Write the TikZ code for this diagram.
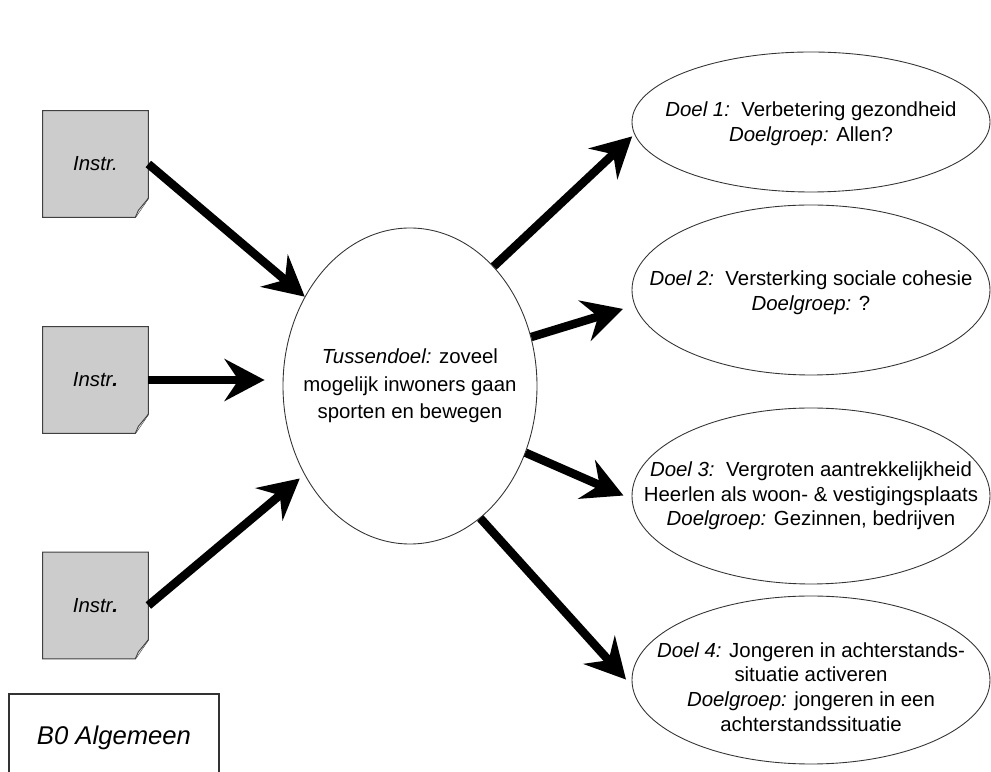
\documentclass[tikz,border=0pt]{standalone}
\usepackage{fontspec}
\setmainfont{Liberation Sans}
\usetikzlibrary{arrows.meta,shapes.geometric}

\tikzset{
  instr/.style={minimum width=2.1cm, minimum height=2.12cm, inner sep=0pt},
  fold/.style={draw=black!75, line width=0.6pt, fill=black!20},
  flap/.style={draw=black!75, line width=0.5pt, fill=black!8},
  goal/.style={ellipse, draw=black!80, line width=0.5pt, inner sep=0pt},
  txt/.style={align=center, inner sep=0pt},
  arr/.style={line width=0.17cm, -{Stealth[length=0.8cm, width=0.84cm, inset=0.28cm]}}
}

\begin{document}
\begin{tikzpicture}[every node/.style={font=\fontsize{11.6}{14}\selectfont}]
\useasboundingbox (0,0) rectangle (19.82,15.44);

% Instrumenten
\node[instr] (i1) at (1.91,12.16) {};
\node[instr] (i2) at (1.91,7.84) {};
\node[instr] (i3) at (1.91,3.33) {};
\draw[fold] (i1.north west) -- (i1.north east) -- ([yshift=0.38cm]i1.south east) -- ([xshift=-0.26cm]i1.south east) -- (i1.south west) -- cycle;
\draw[fold] (i2.north west) -- (i2.north east) -- ([yshift=0.38cm]i2.south east) -- ([xshift=-0.26cm]i2.south east) -- (i2.south west) -- cycle;
\draw[fold] (i3.north west) -- (i3.north east) -- ([yshift=0.38cm]i3.south east) -- ([xshift=-0.26cm]i3.south east) -- (i3.south west) -- cycle;
\draw[flap] ([yshift=0.38cm]i1.south east) -- ([xshift=-0.2cm,yshift=0.14cm]i1.south east) -- ([xshift=-0.26cm]i1.south east);
\draw[flap] ([yshift=0.38cm]i2.south east) -- ([xshift=-0.2cm,yshift=0.14cm]i2.south east) -- ([xshift=-0.26cm]i2.south east);
\draw[flap] ([yshift=0.38cm]i3.south east) -- ([xshift=-0.2cm,yshift=0.14cm]i3.south east) -- ([xshift=-0.26cm]i3.south east);
\node[txt] (i1txt) at (i1) {\textit{Instr.}};
\node[txt] (i2txt) at (i2) {\textit{Instr\textbf{.}}};
\node[txt] (i3txt) at (i3) {\textit{Instr\textbf{.}}};

% Tussendoel
\node[goal, minimum width=5.08cm, minimum height=6.32cm] (mid) at (8.2,7.72) {};
\node[txt, font=\fontsize{11.6}{15.6}\selectfont] (midtxt) at (mid) {\textit{Tussendoel:} zoveel\\ mogelijk inwoners gaan\\ sporten en bewegen};

% Doelen
\node[goal, minimum width=7.16cm, minimum height=2.8cm] (d1) at (16.22,13.0) {};
\node[goal, minimum width=7.16cm, minimum height=3.4cm] (d2) at (16.22,9.64) {};
\node[goal, minimum width=7.16cm, minimum height=3.52cm] (d3) at (16.22,5.52) {};
\node[goal, minimum width=7.16cm, minimum height=3.36cm] (d4) at (16.22,1.84) {};
\node[txt] (d1txt) at ([yshift=-0.04cm]d1) {\textit{Doel 1:}~~Verbetering gezondheid\\ \textit{Doelgroep:} Allen?};
\node[txt] (d2txt) at ([yshift=-0.06cm]d2) {\textit{Doel 2:}~~Versterking sociale cohesie\\ \textit{Doelgroep:} ?};
\node[txt] (d3txt) at (d3) {\textit{Doel 3:}~~Vergroten aantrekkelijkheid\\ Heerlen als woon- \& vestigingsplaats\\ \textit{Doelgroep:} Gezinnen, bedrijven};
\node[txt] (d4txt) at ([yshift=-0.14cm]d4) {\textit{Doel 4:} Jongeren in achterstands-\\ situatie activeren\\ \textit{Doelgroep:} jongeren in een\\ achterstandssituatie};

% Algemeen
\node[draw=black!80, line width=0.6pt, minimum width=4.2cm, minimum height=1.76cm, font=\fontsize{14.6}{17}\selectfont\itshape] (b0) at (2.28,0.68) {B0 Algemeen};

% Pijlen
\draw[arr] (i1.east) -- (mid);
\draw[arr, shorten >=0.36cm] (i2.east) -- (i2.east -| mid.west);
\draw[arr, shorten >=0.12cm] (i3.east) -- (mid);
\draw[arr, shorten >=0.06cm] (mid.55) -- (d1.184);
\draw[arr, shorten >=0.24cm] (mid.22) -- (d2.185);
\draw[arr, shorten >=0.18cm] (mid.330) -- (d3.181);
\draw[arr, shorten >=0.18cm] (mid.298) -- (d4.182);

\end{tikzpicture}
\end{document}
